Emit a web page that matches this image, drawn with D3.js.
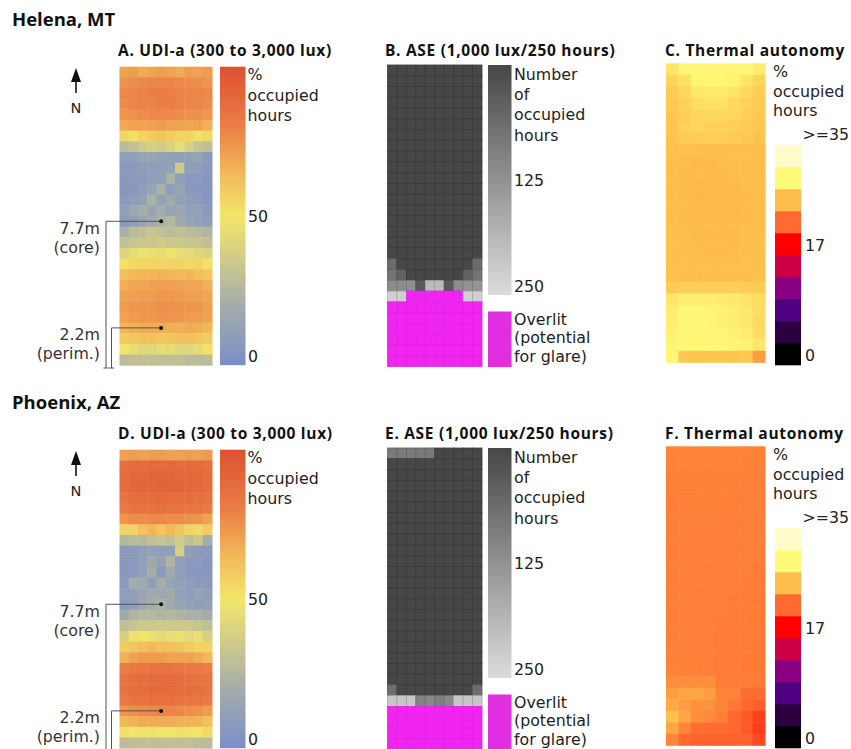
<!DOCTYPE html>
<html>
<head>
<meta charset="utf-8">
<script src="https://cdn.jsdelivr.net/npm/d3@7"></script>
<style>
  body { margin: 0; background: #fff; }
  svg { display: block; font-family: "Open Sans", sans-serif; }
</style>
</head>
<body>
<script>
const width = 851, height = 749;

// --- data -----------------------------------------------------------------
const cities = ["Helena, MT", "Phoenix, AZ"];
const panelTitles = [
  ["A. UDI-a (300 to 3,000 lux)", "B. ASE (1,000 lux/250 hours)", "C. Thermal autonomy"],
  ["D. UDI-a (300 to 3,000 lux)", "E. ASE (1,000 lux/250 hours)", "F. Thermal autonomy"]
];

// UDI-a, % occupied hours, rows north -> south, 10 columns west -> east
const udiHelena = [
  [70, 72, 68, 70, 72, 70, 68, 72, 70, 72],
  [74, 76, 77, 78, 78, 78, 77, 76, 76, 74],
  [77, 78, 79, 80, 80, 80, 79, 78, 78, 77],
  [76, 78, 79, 79, 80, 80, 79, 78, 78, 76],
  [73, 75, 76, 77, 77, 77, 76, 75, 75, 73],
  [68, 70, 70, 71, 72, 70, 70, 69, 70, 67],
  [55, 52, 56, 58, 60, 58, 56, 55, 52, 54],
  [28, 30, 35, 38, 36, 40, 45, 38, 32, 30],
  [10, 10, 14, 15, 12, 12, 10, 12, 14, 8],
  [8, 8, 9, 10, 10, 12, 35, 10, 10, 8],
  [6, 8, 8, 10, 12, 22, 10, 8, 8, 6],
  [6, 7, 10, 14, 22, 10, 15, 8, 7, 6],
  [8, 10, 12, 22, 12, 18, 12, 10, 8, 6],
  [10, 16, 20, 14, 20, 14, 16, 12, 12, 8],
  [8, 10, 14, 18, 22, 25, 18, 14, 12, 10],
  [22, 28, 30, 32, 30, 28, 30, 28, 26, 24],
  [30, 32, 34, 34, 35, 34, 34, 32, 32, 30],
  [40, 45, 48, 46, 45, 48, 45, 44, 42, 40],
  [52, 54, 55, 56, 55, 56, 55, 54, 56, 52],
  [62, 64, 65, 65, 66, 65, 64, 65, 62, 60],
  [67, 69, 69, 70, 71, 71, 70, 69, 69, 67],
  [70, 71, 72, 72, 73, 73, 72, 71, 71, 69],
  [72, 73, 74, 74, 75, 75, 74, 74, 73, 71],
  [70, 72, 73, 73, 74, 74, 73, 72, 72, 70],
  [65, 67, 68, 68, 68, 67, 66, 68, 67, 64],
  [58, 60, 62, 62, 60, 60, 62, 62, 60, 58],
  [50, 45, 42, 42, 45, 44, 42, 42, 44, 52],
  [28, 30, 30, 30, 30, 30, 30, 28, 28, 28]
];
const udiPhoenix = [
  [70, 72, 70, 72, 72, 70, 70, 72, 70, 72],
  [86, 88, 88, 89, 89, 89, 88, 88, 87, 86],
  [88, 90, 90, 91, 91, 91, 90, 90, 89, 88],
  [88, 90, 91, 91, 92, 91, 91, 90, 89, 87],
  [85, 87, 88, 88, 89, 88, 88, 87, 86, 85],
  [82, 84, 85, 85, 86, 85, 85, 84, 83, 82],
  [74, 76, 76, 77, 77, 76, 76, 75, 74, 70],
  [55, 56, 62, 65, 60, 64, 60, 56, 54, 58],
  [25, 28, 26, 30, 32, 30, 36, 30, 34, 20],
  [8, 8, 10, 12, 10, 12, 38, 10, 8, 8],
  [6, 8, 10, 18, 12, 24, 10, 8, 8, 6],
  [6, 8, 12, 20, 8, 18, 10, 8, 6, 6],
  [8, 20, 18, 10, 20, 14, 12, 10, 8, 8],
  [10, 12, 14, 18, 16, 18, 12, 10, 14, 10],
  [8, 10, 16, 20, 22, 18, 14, 12, 10, 12],
  [18, 24, 26, 26, 24, 26, 24, 22, 22, 20],
  [30, 32, 34, 34, 35, 34, 34, 34, 32, 30],
  [38, 48, 50, 46, 44, 46, 48, 44, 46, 38],
  [58, 60, 62, 64, 62, 62, 60, 58, 56, 56],
  [66, 70, 72, 72, 72, 70, 70, 70, 68, 64],
  [80, 82, 83, 84, 84, 84, 83, 82, 82, 80],
  [84, 86, 87, 88, 88, 88, 87, 86, 85, 84],
  [85, 87, 88, 89, 89, 89, 88, 87, 86, 85],
  [82, 84, 85, 86, 86, 86, 85, 84, 83, 82],
  [74, 76, 77, 78, 78, 78, 77, 76, 75, 72],
  [64, 66, 68, 68, 68, 68, 66, 66, 65, 62],
  [52, 50, 48, 48, 50, 50, 48, 48, 50, 54],
  [28, 30, 30, 30, 30, 30, 30, 30, 28, 28]
];

// ASE, number of occupied hours above 1,000 lux; 400 = overlit (> 250 h)
const aseHelena = [
  [0, 0, 0, 0, 0, 0, 0, 0, 0, 0],
  [0, 0, 0, 0, 0, 0, 0, 0, 0, 0],
  [0, 0, 0, 0, 0, 0, 0, 0, 0, 0],
  [0, 0, 0, 0, 0, 0, 0, 0, 0, 0],
  [0, 0, 0, 0, 0, 0, 0, 0, 0, 0],
  [0, 0, 0, 0, 0, 0, 0, 0, 0, 0],
  [0, 0, 0, 0, 0, 0, 0, 0, 0, 0],
  [0, 0, 0, 0, 0, 0, 0, 0, 0, 0],
  [0, 0, 0, 0, 0, 0, 0, 0, 0, 0],
  [0, 0, 0, 0, 0, 0, 0, 0, 0, 0],
  [0, 0, 0, 0, 0, 0, 0, 0, 0, 0],
  [0, 0, 0, 0, 0, 0, 0, 0, 0, 0],
  [0, 0, 0, 0, 0, 0, 0, 0, 0, 0],
  [0, 0, 0, 0, 0, 0, 0, 0, 0, 0],
  [0, 0, 0, 0, 0, 0, 0, 0, 0, 0],
  [0, 0, 0, 0, 0, 0, 0, 0, 0, 0],
  [0, 0, 0, 0, 0, 0, 0, 0, 0, 0],
  [0, 0, 0, 0, 0, 0, 0, 0, 0, 0],
  [60, 0, 0, 0, 0, 0, 0, 0, 0, 60],
  [75, 45, 0, 0, 0, 0, 0, 0, 45, 75],
  [115, 115, 120, 30, 195, 195, 30, 115, 125, 130],
  [230, 230, 400, 400, 400, 400, 400, 400, 230, 230],
  [400, 400, 400, 400, 400, 400, 400, 400, 400, 400],
  [400, 400, 400, 400, 400, 400, 400, 400, 400, 400],
  [400, 400, 400, 400, 400, 400, 400, 400, 400, 400],
  [400, 400, 400, 400, 400, 400, 400, 400, 400, 400],
  [400, 400, 400, 400, 400, 400, 400, 400, 400, 400],
  [400, 400, 400, 400, 400, 400, 400, 400, 400, 400]
];
const asePhoenix = [
  [85, 85, 85, 85, 85, 0, 0, 0, 0, 0],
  [0, 0, 0, 0, 0, 0, 0, 0, 0, 0],
  [0, 0, 0, 0, 0, 0, 0, 0, 0, 0],
  [0, 0, 0, 0, 0, 0, 0, 0, 0, 0],
  [0, 0, 0, 0, 0, 0, 0, 0, 0, 0],
  [0, 0, 0, 0, 0, 0, 0, 0, 0, 0],
  [0, 0, 0, 0, 0, 0, 0, 0, 0, 0],
  [0, 0, 0, 0, 0, 0, 0, 0, 0, 0],
  [0, 0, 0, 0, 0, 0, 0, 0, 0, 0],
  [0, 0, 0, 0, 0, 0, 0, 0, 0, 0],
  [0, 0, 0, 0, 0, 0, 0, 0, 0, 0],
  [0, 0, 0, 0, 0, 0, 0, 0, 0, 0],
  [0, 0, 0, 0, 0, 0, 0, 0, 0, 0],
  [0, 0, 0, 0, 0, 0, 0, 0, 0, 0],
  [0, 0, 0, 0, 0, 0, 0, 0, 0, 0],
  [0, 0, 0, 0, 0, 0, 0, 0, 0, 0],
  [0, 0, 0, 0, 0, 0, 0, 0, 0, 0],
  [0, 0, 0, 0, 0, 0, 0, 0, 0, 0],
  [0, 0, 0, 0, 0, 0, 0, 0, 0, 0],
  [0, 0, 0, 0, 0, 0, 0, 0, 0, 0],
  [0, 0, 0, 0, 0, 0, 0, 0, 0, 0],
  [0, 0, 0, 0, 0, 0, 0, 0, 0, 0],
  [65, 0, 0, 0, 0, 0, 0, 0, 0, 65],
  [215, 215, 215, 100, 110, 95, 110, 215, 215, 215],
  [400, 400, 400, 400, 400, 400, 400, 400, 400, 400],
  [400, 400, 400, 400, 400, 400, 400, 400, 400, 400],
  [400, 400, 400, 400, 400, 400, 400, 400, 400, 400],
  [400, 400, 400, 400, 400, 400, 400, 400, 400, 400]
];

// Thermal autonomy, % occupied hours, 8 columns
const thermalHelena = [
  [28.5, 29.5, 29.5, 29.5, 29.5, 29.5, 29.5, 28.8],
  [27.5, 28.2, 29.5, 29.5, 29.5, 29.2, 28.5, 27.5],
  [27.0, 27.6, 28.6, 28.8, 28.8, 28.4, 27.8, 27.0],
  [26.8, 27.4, 28.0, 28.2, 28.2, 27.8, 27.4, 26.9],
  [26.7, 27.2, 27.6, 27.8, 27.8, 27.6, 27.2, 26.8],
  [26.6, 27.3, 27.6, 27.4, 27.4, 27.2, 27.0, 26.7],
  [26.5, 26.9, 27.1, 27.1, 27.1, 26.9, 26.8, 26.5],
  [26.3, 26.4, 26.3, 26.2, 26.2, 26.3, 26.3, 26.2],
  [26.2, 26.2, 26.1, 26.1, 26.2, 26.2, 26.2, 26.2],
  [26.2, 26.1, 26.1, 26.1, 26.1, 26.2, 26.2, 26.2],
  [26.2, 26.1, 26.1, 26.0, 26.1, 26.1, 26.2, 26.2],
  [26.2, 26.1, 26.0, 26.0, 26.0, 26.1, 26.1, 26.2],
  [26.2, 26.1, 26.0, 26.0, 26.1, 26.0, 26.1, 26.2],
  [26.2, 26.1, 26.1, 26.0, 26.0, 26.1, 26.1, 26.2],
  [26.3, 26.2, 26.1, 26.1, 26.1, 26.1, 26.2, 26.2],
  [26.3, 26.2, 26.1, 26.1, 26.1, 26.1, 26.2, 26.3],
  [26.3, 26.2, 26.2, 26.1, 26.1, 26.2, 26.2, 26.3],
  [26.3, 26.3, 26.2, 26.2, 26.2, 26.2, 26.3, 26.3],
  [26.4, 26.3, 26.3, 26.3, 26.3, 26.3, 26.3, 26.4],
  [27.0, 27.2, 27.2, 27.2, 27.2, 27.2, 27.0, 27.0],
  [28.5, 29.0, 29.0, 29.0, 28.8, 28.6, 28.4, 28.0],
  [29.0, 29.6, 29.6, 29.4, 29.2, 29.0, 28.6, 28.0],
  [29.0, 29.6, 29.6, 29.5, 29.3, 29.0, 28.6, 27.8],
  [29.2, 29.6, 29.6, 29.5, 29.5, 29.2, 29.0, 28.0],
  [29.4, 29.6, 29.6, 29.6, 29.6, 29.4, 29.2, 28.6],
  [29.5, 26.8, 26.6, 26.6, 26.6, 26.6, 26.8, 24.8]
];
const thermalPhoenix = [
  [23.8, 23.8, 23.8, 23.8, 23.8, 23.8, 23.8, 23.7],
  [23.7, 23.8, 23.8, 23.8, 23.8, 23.8, 23.7, 23.7],
  [23.7, 23.7, 23.7, 23.7, 23.7, 23.7, 23.7, 23.6],
  [23.7, 23.7, 23.7, 23.7, 23.7, 23.7, 23.6, 23.6],
  [23.6, 23.7, 23.7, 23.7, 23.7, 23.6, 23.6, 23.6],
  [23.6, 23.6, 23.7, 23.7, 23.6, 23.6, 23.6, 23.6],
  [23.6, 23.6, 23.6, 23.6, 23.6, 23.6, 23.6, 23.6],
  [23.6, 23.6, 23.6, 23.6, 23.6, 23.6, 23.6, 23.6],
  [23.6, 23.6, 23.6, 23.6, 23.6, 23.6, 23.6, 23.6],
  [23.6, 23.6, 23.6, 23.6, 23.6, 23.6, 23.6, 23.6],
  [23.6, 23.6, 23.6, 23.6, 23.6, 23.6, 23.6, 23.5],
  [23.6, 23.6, 23.6, 23.6, 23.6, 23.6, 23.5, 23.5],
  [23.6, 23.6, 23.6, 23.6, 23.6, 23.6, 23.5, 23.5],
  [23.6, 23.6, 23.6, 23.6, 23.6, 23.5, 23.5, 23.5],
  [23.6, 23.6, 23.6, 23.6, 23.6, 23.5, 23.5, 23.5],
  [23.6, 23.6, 23.6, 23.6, 23.5, 23.5, 23.5, 23.5],
  [23.6, 23.6, 23.6, 23.6, 23.5, 23.5, 23.5, 23.5],
  [23.7, 23.6, 23.6, 23.6, 23.5, 23.5, 23.5, 23.4],
  [23.7, 23.7, 23.6, 23.6, 23.5, 23.5, 23.4, 23.4],
  [23.8, 23.7, 23.7, 23.6, 23.5, 23.5, 23.4, 23.4],
  [24.2, 24.2, 24.2, 24.2, 23.5, 23.5, 23.5, 23.5],
  [24.8, 25.2, 25.2, 24.8, 23.8, 23.8, 22.9, 22.9],
  [25.4, 24.8, 24.4, 24.4, 23.8, 23.3, 22.7, 22.4],
  [26.4, 25.2, 24.2, 24.1, 23.6, 22.7, 22.2, 21.4],
  [25.2, 23.8, 22.9, 22.9, 22.9, 22.7, 22.2, 21.2],
  [23.8, 22.7, 22.5, 22.5, 22.5, 22.5, 22.5, 21.7]
];

// colour keys
const udiStops = [0, 20, 35, 50, 65, 80, 100];
const udiColors = ["#7a8ec8", "#a4adaa", "#cfca8a", "#f2e66a", "#f2b658", "#ea7e46", "#dd5130"];
const udiTicks = [0, 50];
const aseDomain = [0, 250];
const aseColors = ["#474747", "#dcdcdc"];
const aseTicks = [125, 250];
const overlitCell = "#f224f2", overlitKey = "#e12ee0";
const thermalEdges = [0, 3.5, 7, 10.5, 14, 17.5, 21, 24.5, 28, 31.5, 35];
const thermalBinColors = ["#000000", "#2c0040", "#4f0080", "#8a0082", "#cc0044",
                          "#ff0000", "#fe6a30", "#fdbf4c", "#fffa78", "#fffbc8"];
const thermalTickBins = [[0, "0"], [5, "17"]];

const sensors = [
  {label: "7.7m", sub: "(core)", row: 14, col: 4, lineX: 106},
  {label: "2.2m", sub: "(perim.)", row: 24, col: 4, lineX: 111.5}
];

// --- scales ---------------------------------------------------------------
const udiColor = d3.scaleLinear().domain(udiStops).range(udiColors).clamp(true);
const aseGray = d3.scaleLinear().domain(aseDomain).range(aseColors).clamp(true);
const aseColor = v => v > aseDomain[1] ? overlitCell : aseGray(v);
const thermalCenters = thermalBinColors.map((c, i) => (thermalEdges[i] + thermalEdges[i + 1]) / 2);
const thermalColor = d3.scaleLinear().domain(thermalCenters).range(thermalBinColors).clamp(true);

const labelFont = "'DejaVu Sans', sans-serif";
const labelSize = 15.8;

const svg = d3.select("body").append("svg")
    .attr("viewBox", [0, 0, width, height])
    .attr("width", width)
    .attr("height", height);
const defs = svg.append("defs");

function heatmap(g, rows, [x0, y0, w, h], color, grid) {
  const x = d3.scaleBand().domain(d3.range(rows[0].length)).range([x0, x0 + w]);
  const y = d3.scaleBand().domain(d3.range(rows.length)).range([y0, y0 + h]);
  const cells = rows.flatMap((r, i) => r.map((v, j) => ({i, j, v})));
  g.append("g")
    .selectAll("rect")
    .data(cells)
    .join("rect")
      .attr("x", d => x(d.j))
      .attr("y", d => y(d.i))
      .attr("width", x.bandwidth() + (grid ? 0 : 0.5))
      .attr("height", y.bandwidth() + (grid ? 0 : 0.5))
      .attr("fill", d => color(d.v))
      .attr("stroke", grid ? d => d3.color(color(d.v)).darker(d.v > aseDomain[1] ? 0.2 : 0.55) : null)
      .attr("stroke-width", grid ? 0.8 : null);
  return {x, y};
}

// one <text> per label block, lines as tspans
function label(g, x, y, lines, lh, attrs = {}) {
  const t = g.append("text").attr("x", x).attr("y", y)
      .attr("font-family", labelFont).attr("font-size", labelSize).attr("fill", "#222");
  for (const [k, v] of Object.entries(attrs)) t.attr(k, v);
  t.selectAll("tspan").data(lines).join("tspan")
      .attr("x", x).attr("dy", (d, i) => i ? lh : 0).text(d => d);
  return t;
}

// vertical colour bar; low value at bottom unless flip
function gradientBar(g, id, [x0, y0, w, h], stops, colors, flip) {
  const grad = defs.append("linearGradient").attr("id", id)
      .attr("x1", 0).attr("y1", flip ? 0 : 1).attr("x2", 0).attr("y2", flip ? 1 : 0);
  const s = d3.scaleLinear().domain(d3.extent(stops)).range([0, 1]);
  grad.selectAll("stop").data(stops).join("stop")
      .attr("offset", d => s(d))
      .attr("stop-color", (d, i) => colors[i]);
  g.append("rect").attr("x", x0).attr("y", y0).attr("width", w).attr("height", h)
      .attr("fill", `url(#${id})`);
}

function tickText(g) {
  return g.append("g").attr("font-family", labelFont)
      .attr("font-size", labelSize).attr("fill", "#222");
}

function drawCity(ci, dy, udi, ase, thermal) {
  const g = svg.append("g").attr("transform", `translate(0,${dy})`);

  g.append("text").attr("x", 12).attr("y", 25.5)
      .attr("font-size", 18.5).attr("font-weight", 700).attr("fill", "#111")
      .text(cities[ci]);

  const titles = g.append("g").attr("font-size", 15.5).attr("font-weight", 700)
      .attr("letter-spacing", 0.7).attr("fill", "#111");
  titles.append("text").attr("x", 118).attr("y", 56).text(panelTitles[ci][0]);
  titles.append("text").attr("x", 385).attr("y", 56).text(panelTitles[ci][1]);
  titles.append("text").attr("x", 665).attr("y", 56).text(panelTitles[ci][2]);

  // north arrow
  const na = g.append("g").attr("fill", "#111").attr("stroke", "#111");
  na.append("path").attr("d", "M76,68L71,82L81,82Z").attr("stroke", "none");
  na.append("line").attr("x1", 76).attr("x2", 76).attr("y1", 80).attr("y2", 93).attr("stroke-width", 1.6);
  g.append("text").attr("x", 76).attr("y", 113).attr("text-anchor", "middle")
      .attr("font-family", labelFont).attr("font-size", 14.5).attr("fill", "#222").text("N");

  // A / D: UDI-a
  const udiBox = [119.5, 66.7, 92.5, 298.5];
  const {x: ux, y: uy} = heatmap(g, udi, udiBox, udiColor, false);
  const barBox = [220, 66.7, 25.5, 298.5];
  gradientBar(g, "udi" + ci, barBox, udiStops, udiColors, false);
  label(g, 247.5, 80, ["%", "occupied", "hours"], 20.5);
  const uScale = d3.scaleLinear().domain([0, 100]).range([barBox[1] + barBox[3], barBox[1]]);
  tickText(g).selectAll("text").data(udiTicks).join("text")
      .attr("x", 248)
      .attr("y", d => d === 0 ? uScale(d) - 3.5 : uScale(d) + 6)
      .text(d => d);

  // sensor leaders
  const lead = g.append("g");
  for (const s of sensors) {
    const cx = ux(s.col) + ux.bandwidth() / 2, cy = uy(s.row) + uy.bandwidth() / 2;
    lead.append("path")
        .attr("d", `M${cx},${cy}H${s.lineX}V${368}M${s.lineX - 2.5},368H${s.lineX + 2.5}`)
        .attr("fill", "none").attr("stroke", "#555").attr("stroke-width", 1);
    lead.append("circle").attr("cx", cx).attr("cy", cy).attr("r", 2).attr("fill", "#111");
    label(lead, 100, cy + 12.5, [s.label, s.sub], 18.8, {"text-anchor": "end", fill: "#333"});
  }

  // B / E: ASE
  heatmap(g, ase, [387.5, 65, 94.5, 301.5], aseColor, true);
  const aseBar = [488, 65, 23.5, 230];
  gradientBar(g, "ase" + ci, aseBar, aseDomain, aseColors, true);
  label(g, 514, 80, ["Number", "of", "occupied", "hours"], 20.2);
  const aScale = d3.scaleLinear().domain(aseDomain).range([aseBar[1], aseBar[1] + aseBar[3]]);
  tickText(g).selectAll("text").data(aseTicks).join("text")
      .attr("x", 514)
      .attr("y", d => d === aseDomain[1] ? aScale(d) - 3 : aScale(d) + 6)
      .text(d => d);
  g.append("rect").attr("x", 488).attr("y", 311.5).attr("width", 23.5).attr("height", 55.5)
      .attr("fill", overlitKey);
  label(g, 514, 324.5, ["Overlit", "(potential", "for glare)"], 18.7);

  // C / F: thermal autonomy
  heatmap(g, thermal, [666, 63.3, 99, 299], thermalColor, false);
  label(g, 773, 77, ["%", "occupied", "hours"], 19.5);
  tickText(g).append("text").attr("x", 849).attr("y", 140).attr("text-anchor", "end").text(">=35");
  const tScale = d3.scaleLinear().domain([0, 35]).range([365, 145]);
  g.append("g").selectAll("rect").data(thermalBinColors).join("rect")
      .attr("x", 775).attr("width", 26)
      .attr("y", (d, i) => tScale(thermalEdges[i + 1]))
      .attr("height", (d, i) => tScale(thermalEdges[i]) - tScale(thermalEdges[i + 1]) + 0.3)
      .attr("fill", d => d);
  tickText(g).selectAll("text").data(thermalTickBins).join("text")
      .attr("x", 805)
      .attr("y", ([b]) => (tScale(thermalEdges[b]) + tScale(thermalEdges[b + 1])) / 2 + 6.5)
      .text(([, l]) => l);
}

drawCity(0, 0, udiHelena, aseHelena, thermalHelena);
drawCity(1, 383, udiPhoenix, asePhoenix, thermalPhoenix);
</script>
</body>
</html>
